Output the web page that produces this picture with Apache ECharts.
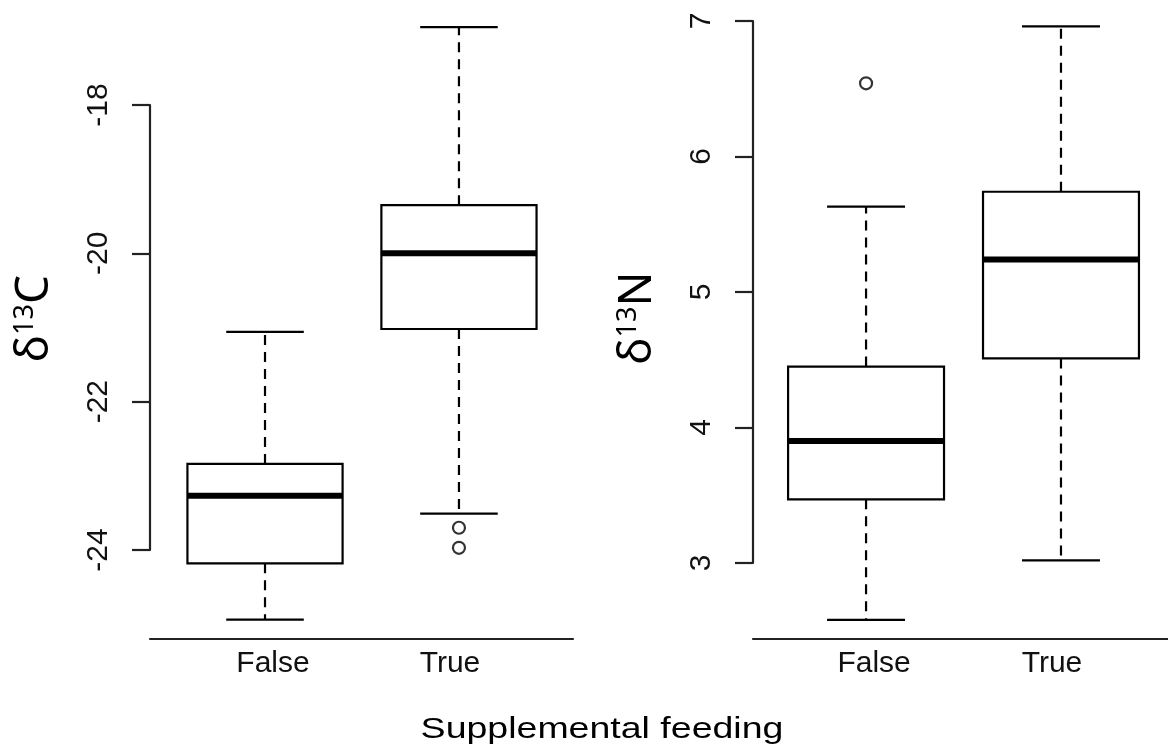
<!DOCTYPE html>
<html>
<head>
<meta charset="utf-8">
<script src="https://cdn.jsdelivr.net/npm/echarts@6/dist/echarts.min.js"></script>
<style>
html,body{margin:0;padding:0;background:#fff;}
#chart{width:1168px;height:751px;}
</style>
</head>
<body>
<div id="chart"></div>
<script>
// ---- data ----
const categories = ['False', 'True'];
// [lower whisker, Q1, median, Q3, upper whisker]
const d13C_stats = [
  [-24.94, -24.18, -23.27, -22.84, -21.06],
  [-23.51, -21.02, -20.00, -19.35, -16.95]
];
const d13C_outliers = [[2, -23.70], [2, -23.97], [2, -24.01]];
const d13N_stats = [
  [2.58, 3.47, 3.90, 4.45, 5.63],
  [3.02, 4.51, 5.24, 5.74, 6.96]
];
const d13N_outliers = [[1, 6.54]];
const yTicksC = [-24, -22, -20, -18];
const yTicksN = [3, 4, 5, 6, 7];
const xTitle = 'Supplemental feeding';

// ---- helpers ----
const INK = '#000';
function rows(stats) {
  return stats.map((s, i) => [i + 1].concat(s));
}
function renderBox(params, api) {
  const x = api.value(0);
  const lo = api.value(1), q1 = api.value(2), med = api.value(3), q3 = api.value(4), hi = api.value(5);
  const cx = api.coord([x, med])[0];
  const xl = api.coord([x - 0.4, med])[0];
  const xr = api.coord([x + 0.4, med])[0];
  const cl = api.coord([x - 0.2, med])[0];
  const cr = api.coord([x + 0.2, med])[0];
  const yLo = api.coord([x, lo])[1];
  const yQ1 = api.coord([x, q1])[1];
  const yMed = api.coord([x, med])[1];
  const yQ3 = api.coord([x, q3])[1];
  const yHi = api.coord([x, hi])[1];
  const solid = { stroke: INK, lineWidth: 2.2, fill: null };
  const dashed = { stroke: INK, lineWidth: 2.2, lineDash: [10, 7], fill: null };
  return {
    type: 'group',
    children: [
      { type: 'line', shape: { x1: cx, y1: yQ3, x2: cx, y2: yHi }, style: dashed },
      { type: 'line', shape: { x1: cx, y1: yQ1, x2: cx, y2: yLo }, style: dashed },
      { type: 'line', shape: { x1: cl, y1: yHi, x2: cr, y2: yHi }, style: solid },
      { type: 'line', shape: { x1: cl, y1: yLo, x2: cr, y2: yLo }, style: solid },
      { type: 'rect', shape: { x: xl, y: yQ3, width: xr - xl, height: yQ1 - yQ3 }, style: { stroke: INK, lineWidth: 2.2, fill: '#fff' } },
      { type: 'line', shape: { x1: xl, y1: yMed, x2: xr, y2: yMed }, style: { stroke: '#000', lineWidth: 6 } }
    ]
  };
}
function yAxisCfg(gridIndex, min, max, interval, titleRich, padding) {
  return {
    type: 'value', gridIndex: gridIndex, min: min, max: max, interval: interval,
    axisLine: { show: true, lineStyle: { color: '#222', width: 2.2 } },
    axisTick: { show: true, length: 18, lineStyle: { color: '#222', width: 2.2 } },
    splitLine: { show: false },
    axisLabel: { rotate: 90, margin: 36, fontSize: 30, color: '#111', fontFamily: 'Liberation Sans' },
    name: titleRich,
    nameLocation: 'middle',
    nameRotate: 90,
    nameGap: 92,
    nameTextStyle: {
      padding: padding,
      rich: {
        d: { fontSize: 46, fontFamily: 'Noto Sans', color: '#000' },
        s: { fontSize: 27, fontFamily: 'Noto Sans', color: '#000', verticalAlign: 'top', padding: [0, 0, 17, 0] },
        c: { fontSize: 46, fontFamily: 'Noto Sans', color: '#000' }
      }
    }
  };
}
function xAxisCfg(gridIndex, min, max, offset) {
  return {
    type: 'value', gridIndex: gridIndex, min: min, max: max, offset: offset,
    axisLine: { show: true, onZero: false, lineStyle: { color: '#222', width: 2.2 } },
    axisTick: { show: false },
    splitLine: { show: false },
    axisLabel: {
      customValues: [1, 2],
      margin: 10,
      formatter: function (v) {
        const name = categories[Math.round(v) - 1];
        return Math.round(v) === 1 ? '{f|' + name + '}' : '{t|' + name + '}';
      },
      rich: {
        f: { fontSize: 30, fontFamily: 'Liberation Sans', color: '#111', padding: [0, 0, 0, 16] },
        t: { fontSize: 30, fontFamily: 'Liberation Sans', color: '#111', padding: [0, 18, 0, 0] }
      }
    }
  };
}

const chart = echarts.init(document.getElementById('chart'), null, { renderer: 'canvas' });
chart.setOption({
  animation: false,
  backgroundColor: '#fff',
  grid: [
    { left: 150, top: 105, width: 423, height: 445 },
    { left: 753, top: 21, width: 415, height: 542 }
  ],
  xAxis: [
    xAxisCfg(0, 0.407, 2.588, 89),
    xAxisCfg(1, 0.42, 2.549, 76)
  ],
  yAxis: [
    yAxisCfg(0, yTicksC[0], yTicksC[yTicksC.length - 1], 2, '{d|δ}{s|13}{c|C}', [0, 0, 0, 18]),
    yAxisCfg(1, yTicksN[0], yTicksN[yTicksN.length - 1], 1, '{d|δ}{s|13}{c|N}', [0, 52, 0, 0])
  ],
  graphic: [
    {
      type: 'text', x: 602, y: 730, scaleX: 1.25, scaleY: 1,
      style: { text: xTitle, fontSize: 30, fontFamily: 'Liberation Sans', fill: '#000', textAlign: 'center', textVerticalAlign: 'middle' }
    }
  ],
  series: [
    { type: 'custom', xAxisIndex: 0, yAxisIndex: 0, clip: false, renderItem: renderBox, data: rows(d13C_stats), encode: { x: 0, y: [1, 2, 3, 4, 5] } },
    { type: 'custom', xAxisIndex: 1, yAxisIndex: 1, clip: false, renderItem: renderBox, data: rows(d13N_stats), encode: { x: 0, y: [1, 2, 3, 4, 5] } },
    { type: 'scatter', xAxisIndex: 0, yAxisIndex: 0, data: d13C_outliers, symbol: 'circle', symbolSize: 12, itemStyle: { color: '#fff', borderColor: '#000', borderWidth: 2.2 } },
    { type: 'scatter', xAxisIndex: 1, yAxisIndex: 1, data: d13N_outliers, symbol: 'circle', symbolSize: 12, itemStyle: { color: '#fff', borderColor: '#000', borderWidth: 2.2 } }
  ]
});
</script>
</body>
</html>
